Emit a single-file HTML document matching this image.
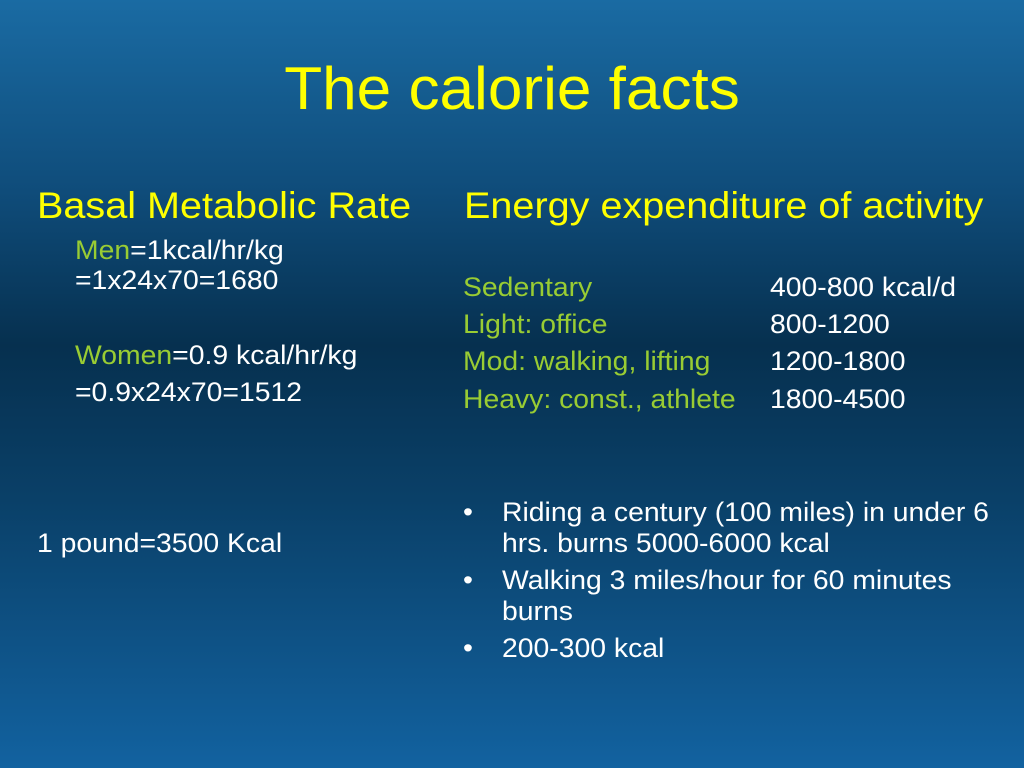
<!DOCTYPE html>
<html><head><meta charset="utf-8"><style>
html,body{margin:0;padding:0}
body{width:1024px;height:768px;overflow:hidden;position:relative;
background:linear-gradient(180deg,#1a6ba3 0%,#0f4c7a 25%,#06304f 45%,#0a4068 65%,#1262a0 100%);
font-family:"Liberation Sans",sans-serif;color:#fff}
.t{position:absolute;white-space:nowrap;line-height:1;transform-origin:0 50%}
.y{color:#ffff00}.g{color:#99cc33}
.b{font-size:27px;transform:scaleX(1.05)}
.h{font-size:37px;transform:scaleX(1.07)}
</style></head><body>
<div class="t y" style="left:0;width:1024px;text-align:center;top:59px;font-size:60px;transform:scaleX(1.035);transform-origin:50% 50%">The calorie facts</div>
<div class="t y h" style="left:37px;top:187px">Basal Metabolic Rate</div>
<div class="t y h" style="left:464px;top:187px">Energy expenditure of activity</div>
<div class="t b" style="left:75px;top:237px"><span class="g">Men</span>=1kcal/hr/kg</div>
<div class="t b" style="left:75px;top:267px">=1x24x70=1680</div>
<div class="t b" style="left:75px;top:342px"><span class="g">Women</span>=0.9 kcal/hr/kg</div>
<div class="t b" style="left:75px;top:379px">=0.9x24x70=1512</div>
<div class="t b" style="left:37px;top:530px">1 pound=3500 Kcal</div>
<div class="t b g" style="left:463px;top:274px">Sedentary</div>
<div class="t b" style="left:770px;top:274px">400-800 kcal/d</div>
<div class="t b g" style="left:463px;top:311px">Light: office</div>
<div class="t b" style="left:770px;top:311px">800-1200</div>
<div class="t b g" style="left:463px;top:348px">Mod: walking, lifting</div>
<div class="t b" style="left:770px;top:348px">1200-1800</div>
<div class="t b g" style="left:463px;top:386px">Heavy: const., athlete</div>
<div class="t b" style="left:770px;top:386px">1800-4500</div>
<div class="t b" style="left:463px;top:499px">•</div>
<div class="t b" style="left:502px;top:499px">Riding a century (100 miles) in under 6</div>
<div class="t b" style="left:502px;top:530px">hrs. burns 5000-6000 kcal</div>
<div class="t b" style="left:463px;top:567px">•</div>
<div class="t b" style="left:502px;top:567px">Walking 3 miles/hour for 60 minutes</div>
<div class="t b" style="left:502px;top:598px">burns</div>
<div class="t b" style="left:463px;top:635px">•</div>
<div class="t b" style="left:502px;top:635px">200-300 kcal</div>
</body></html>
